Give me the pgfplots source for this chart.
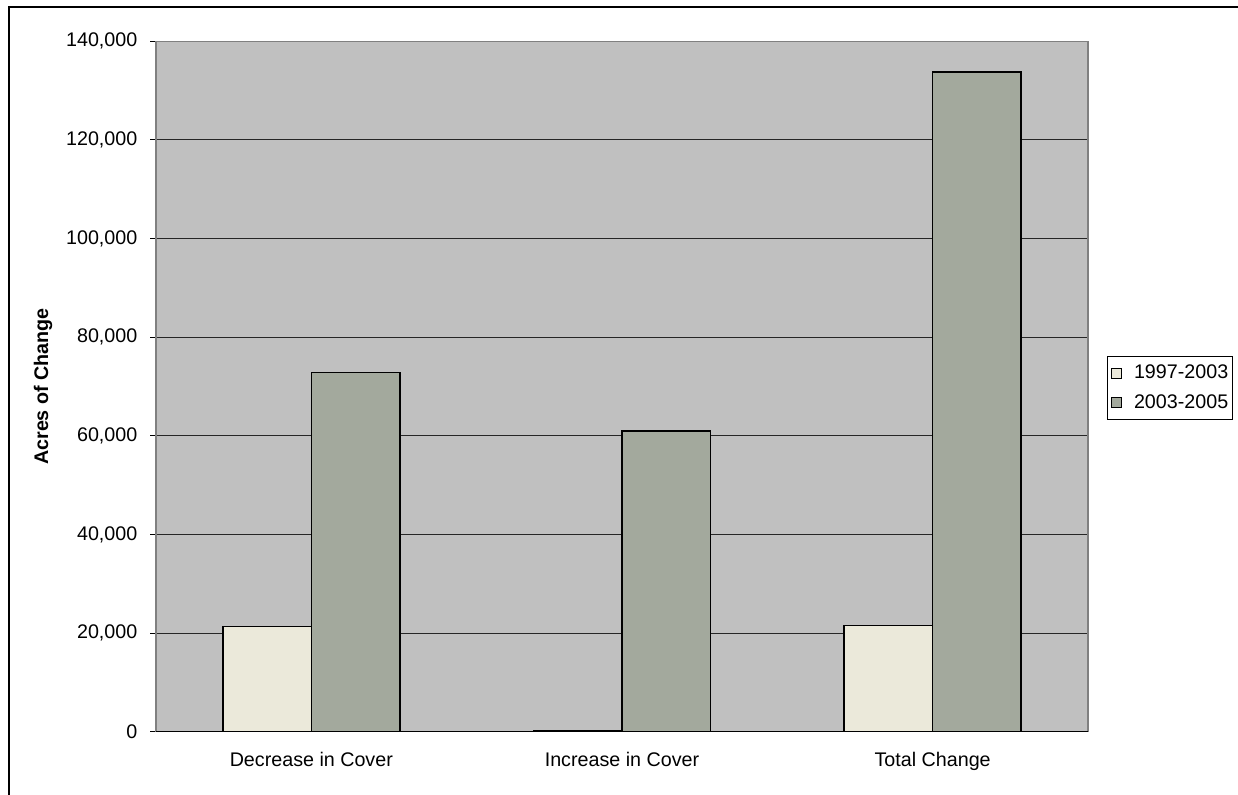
\documentclass[border=0pt]{standalone}
\usepackage{fontspec}
\setmainfont{Liberation Sans}
\usepackage{pgfplots}
\pgfplotsset{compat=1.18}

\definecolor{plotbg}{HTML}{C0C0C0}
\definecolor{earlyfill}{HTML}{EBE9DA}
\definecolor{latefill}{HTML}{A3A99D}
\definecolor{framegray}{HTML}{808080}

\newcommand{\chartfont}{\fontsize{9.85}{11.8}\selectfont}

\pgfplotstableread{
idx early late
0   21300 72800
1   300   61000
2   21600 133800
}\changedata

\begin{document}
\begin{tikzpicture}
% page size: 1 px = 0.5 pt
\path[use as bounding box] (0pt,0pt) rectangle (619pt,-397.5pt);
% chart frame (runs off the right and bottom of the page)
\draw[line width=1pt, black] (4.5pt,-410pt) -- (4.5pt,-3.5pt) -- (630pt,-3.5pt);

\begin{axis}[
  at={(78pt,-365.9pt)}, anchor=south west,
  scale only axis, width=466pt, height=345.25pt,
  font=\chartfont,
  tick label style={font=\chartfont},
  label style={font=\chartfont\bfseries},
  axis background/.style={fill=plotbg},
  axis line style={draw=framegray, line width=0.6pt},
  ybar=0pt, bar width=0.285,
  xmin=-0.5, xmax=2.5, ymin=0, ymax=140000,
  enlargelimits=false,
  xtick={0,1,2},
  xticklabels={Decrease in Cover, Increase in Cover, Total Change},
  x tick style={draw=none},
  extra x ticks={-0.5,0.5,1.5,2.5},
  extra x tick style={xticklabel=\empty, tick style={draw=black, line width=0.5pt}, major tick length=6pt, grid=none},
  ytick distance=20000,
  y tick style={draw=black, line width=0.5pt},
  major tick length=2.8pt,
  tick align=outside,
  xtick pos=bottom, ytick pos=left,
  ymajorgrids,
  grid style={draw=black!85, line width=0.5pt},
  scaled y ticks=false,
  yticklabel={\pgfmathprintnumber[fixed, precision=0, 1000 sep={,}, assume math mode=true]{\tick}},
  yticklabel style={xshift=-3pt},
  xticklabel style={yshift=-4pt},
  ylabel={Acres of Change},
  ylabel style={at={(axis description cs:-0.1212,0.5)}, anchor=center},
  legend style={
    at={(1.0204,0.544)}, anchor=north west,
    draw=black, line width=0.5pt, fill=white,
    font=\chartfont,
    inner xsep=0pt, inner ysep=2pt,
    row sep=2.5pt,
  },
  legend cell align=left,
  legend image code/.code={
    \draw[#1, line width=0.4pt] (1.5pt,-2.5pt) rectangle (6.5pt,2.5pt);
    \path (0pt,0pt) (10.5pt,0pt);},
]
\addplot[fill=earlyfill, draw=black, line width=0.75pt] table[x=idx, y=early] {\changedata};
\addplot[fill=latefill, draw=black, line width=0.75pt] table[x=idx, y=late] {\changedata};
\legend{1997-2003, 2003-2005}
\draw[black, line width=0.6pt] (rel axis cs:0,0) -- (rel axis cs:1,0);
\end{axis}
\end{tikzpicture}
\end{document}
